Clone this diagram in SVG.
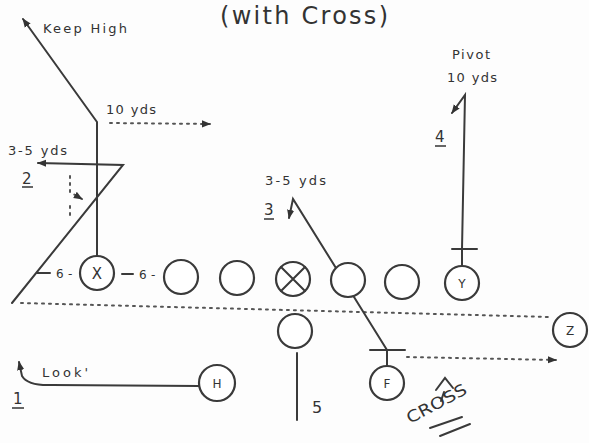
<svg xmlns="http://www.w3.org/2000/svg" width="589" height="443" viewBox="0 0 589 443">
<defs>
<style>
.ln{stroke:#3a3a3a;stroke-width:2;fill:none;stroke-linecap:round}
.dot{stroke:#555;stroke-width:2;fill:none;stroke-dasharray:2 5;stroke-linecap:round}
.pl{stroke:#3a3a3a;stroke-width:2.2;fill:#fff}
.t{font-family:"DejaVu Sans","Liberation Sans",Arial,sans-serif;fill:#333}
.s{font-size:12px}
.m{font-size:15px}
.u{stroke:#333;stroke-width:1.5}
</style>
<marker id="ahb" viewBox="0 0 10 10" refX="9" refY="5" markerWidth="9" markerHeight="9" orient="auto" markerUnits="userSpaceOnUse">
<path d="M0,1 L10,5 L0,9 Z" fill="#333"/>
</marker>
</defs>
<rect width="589" height="443" fill="#fdfdfd"/>
<text class="t" x="220" y="24" font-size="24" textLength="168" lengthAdjust="spacing">(with Cross)</text>

<g id="connectors">
<path class="ln" d="M97,256 L97,122 L23,19" marker-end="url(#ahb)"/>
<path class="dot" d="M110,123 L210,124" marker-end="url(#ahb)"/>
<path class="ln" d="M12,303 L123,165 L38,163" marker-end="url(#ahb)"/>
<path class="dot" d="M70,176 L70,192 L82,199" marker-end="url(#ahb)"/>
<path class="dot" d="M70,206 L70,218"/>
<line class="ln" x1="37" y1="273" x2="50" y2="273"/>
<line class="ln" x1="122" y1="274" x2="133" y2="274"/>
<path class="dot" d="M21,303 L550,317"/>
<path class="ln" d="M387,350 L293,199 L289,218" marker-end="url(#ahb)"/>
<line class="ln" x1="370" y1="350" x2="405" y2="350"/>
<line class="ln" x1="387" y1="350" x2="387" y2="366"/>
<path class="dot" d="M407,357 L556,360" marker-end="url(#ahb)"/>
<line class="ln" x1="452" y1="249" x2="477" y2="249"/>
<path class="ln" d="M462,266 L462,249 L465,95 L452,113" marker-end="url(#ahb)"/>
<line class="ln" x1="297" y1="353" x2="297" y2="420"/>
<path class="ln" d="M199,386 L52,385 Q28,386 22,376 L19,362" marker-end="url(#ahb)"/>
<path class="ln" d="M436,390 L445,378 L453,388 M444,392 L441,401"/>
<path class="ln" d="M430,428 L462,417 M440,436 L470,424"/>
</g>

<g id="X"><circle class="pl" cx="97" cy="273" r="17"/><text class="t m" x="97" y="279" text-anchor="middle">X</text></g>
<g id="o1"><circle class="pl" cx="181" cy="277" r="17"/></g>
<g id="o2"><circle class="pl" cx="237" cy="278" r="17"/></g>
<g id="C"><circle class="pl" cx="293" cy="279" r="17"/><path class="ln" d="M281,267 L305,291 M305,267 L281,291"/></g>
<g id="o3"><circle class="pl" cx="348" cy="280" r="17"/></g>
<g id="o4"><circle class="pl" cx="402" cy="282" r="17"/></g>
<g id="Y"><circle class="pl" cx="462" cy="283" r="17"/><text class="t s" x="462" y="288" text-anchor="middle">Y</text></g>
<g id="Z"><circle class="pl" cx="570" cy="330" r="17"/><text class="t s" x="570" y="335" text-anchor="middle">Z</text></g>
<g id="QB"><circle class="pl" cx="295" cy="331" r="17"/></g>
<g id="F"><circle class="pl" cx="387" cy="383" r="17"/><text class="t s" x="387" y="388" text-anchor="middle">F</text></g>
<g id="H"><circle class="pl" cx="217" cy="383" r="18"/><text class="t s" x="217" y="388" text-anchor="middle">H</text></g>

<g id="labels">
<text class="t" font-size="13" x="43" y="33" textLength="84" lengthAdjust="spacing">Keep High</text>
<text class="t" font-size="13" x="106" y="114" textLength="50" lengthAdjust="spacing">10 yds</text>
<text class="t" font-size="13" x="8" y="155" textLength="59" lengthAdjust="spacing">3-5 yds</text>
<text class="t m" x="22" y="184">2</text><line class="u" x1="22" y1="187" x2="33" y2="187"/>
<text class="t" font-size="13" x="265" y="185" textLength="61" lengthAdjust="spacing">3-5 yds</text>
<text class="t m" x="264" y="215">3</text><line class="u" x1="264" y1="219" x2="274" y2="219"/>
<text class="t" font-size="13" x="452" y="59" textLength="38" lengthAdjust="spacing">Pivot</text>
<text class="t" font-size="13" x="447" y="82" textLength="50" lengthAdjust="spacing">10 yds</text>
<text class="t m" x="435" y="142">4</text><line class="u" x1="435" y1="146" x2="446" y2="146"/>
<text class="t s" x="56" y="278">6</text><text class="t s" x="68" y="278">-</text>
<text class="t s" x="139" y="279">6</text><text class="t s" x="151" y="279">-</text>
<text class="t" font-size="13" x="42" y="377" textLength="46" lengthAdjust="spacing">Look'</text>
<text class="t m" x="13" y="404">1</text><line class="u" x1="12" y1="408" x2="24" y2="408"/>
<text class="t" x="312" y="413" font-size="16">5</text>
<text class="t" x="410" y="424" font-size="16" transform="rotate(-28 410 424)" textLength="66" lengthAdjust="spacingAndGlyphs">CROSS</text>
</g>
</svg>
